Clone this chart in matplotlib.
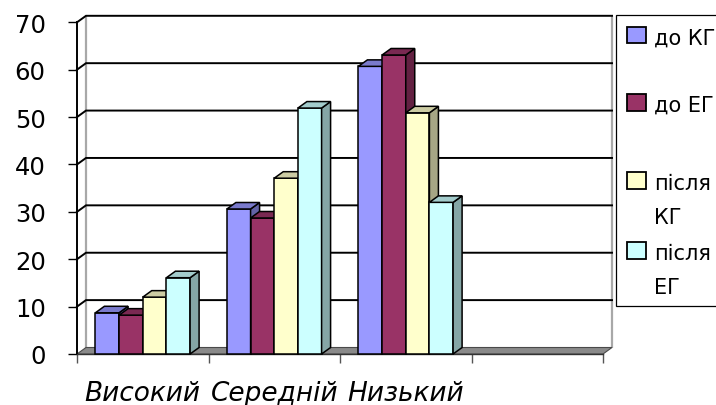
import matplotlib
matplotlib.use("Agg")
import matplotlib.pyplot as plt
from matplotlib.patches import Polygon, Rectangle
import numpy as np

# ---- data -------------------------------------------------------------
categories = ["Високий", "Середній", "Низький", ""]
series_names = ["до КГ", "до ЕГ", "після КГ", "після ЕГ"]
do_kg = [8.7, 30.6, 60.7]
do_eg = [8.2, 28.7, 63.1]
pislia_kg = [12.0, 37.1, 50.9]
pislia_eg = [16.1, 51.9, 32.0]
y_ticks = [0, 10, 20, 30, 40, 50, 60, 70]

series_values = [do_kg, do_eg, pislia_kg, pislia_eg]
colors = ["#9999FF", "#993366", "#FFFFCC", "#CCFFFF"]

# ---- figure / front plane of the 3-D box ------------------------------
W, H, DPI = 716, 406, 100
fig = plt.figure(figsize=(W / DPI, H / DPI), dpi=DPI)
fig.patch.set_facecolor("white")

left_px, right_px, top_px, bottom_px = 77, 603, 23.3, 355
ax = fig.add_axes([left_px / W, 1 - bottom_px / H,
                   (right_px - left_px) / W, (bottom_px - top_px) / H])
n_cat = len(categories)
ymax = y_ticks[-1]
ax.set_xlim(0, n_cat)
ax.set_ylim(0, ymax)
ax.patch.set_alpha(0)

# depth of the box, in pixels, converted to data units
depth_px_x, depth_px_y = 9.0, 6.5
ddx = depth_px_x * n_cat / (right_px - left_px)
ddy = depth_px_y * ymax / (bottom_px - top_px)


def darker(hex_color, f):
    rgb = np.array(matplotlib.colors.to_rgb(hex_color))
    return tuple(rgb * f)


# back wall and left side wall
ax.add_patch(Rectangle((ddx, ddy), n_cat, ymax, facecolor="white",
                       edgecolor="none", zorder=0, clip_on=False))
ax.add_patch(Polygon([(0, 0), (0, ymax), (ddx, ymax + ddy), (ddx, ddy)],
                     closed=True, facecolor="white", edgecolor="none",
                     zorder=0, clip_on=False))
for xe in (ddx, n_cat + ddx):
    ax.plot([xe, xe], [ddy, ymax + ddy], color="#A8A8A8", lw=1.6,
            zorder=1, clip_on=False, solid_capstyle="butt")

# gridlines running over the side wall and the back wall
for v in y_ticks[1:]:
    ax.plot([0, ddx, n_cat + ddx], [v, v + ddy, v + ddy], color="black",
            lw=1.4, zorder=2, clip_on=False, solid_joinstyle="miter")

# floor
ax.add_patch(Polygon([(0, 0), (n_cat, 0), (n_cat + ddx, ddy), (ddx, ddy)],
                     closed=True, facecolor="#8A8A8A", edgecolor="#4A4A4A",
                     lw=0.8, zorder=3, clip_on=False))

# bars
bar_w = 0.18
group_off = (1 - len(series_values) * bar_w) / 2
for ci in range(len(do_kg)):
    for si, vals in enumerate(series_values):
        h = vals[ci]
        c = colors[si]
        x0 = ci + group_off + si * bar_w
        x1 = x0 + bar_w
        z = 10 + ci * 10 + si
        ax.add_patch(Rectangle((x0, 0), bar_w, h, facecolor=c,
                               edgecolor="black", lw=1.1, zorder=z,
                               clip_on=False))
        ax.add_patch(Polygon([(x1, 0), (x1, h), (x1 + ddx, h + ddy),
                              (x1 + ddx, ddy)], closed=True,
                             facecolor=darker(c, 0.65), edgecolor="black",
                             lw=1.1, zorder=z, clip_on=False))
        ax.add_patch(Polygon([(x0, h), (x1, h), (x1 + ddx, h + ddy),
                              (x0 + ddx, h + ddy)], closed=True,
                             facecolor=darker(c, 0.8), edgecolor="black",
                             lw=1.1, zorder=z, clip_on=False))

# ---- axes, ticks, labels ----------------------------------------------
for s in ("top", "right"):
    ax.spines[s].set_visible(False)
ax.spines["left"].set_color("black")
ax.spines["left"].set_linewidth(1.4)
ax.spines["left"].set_zorder(5)
ax.spines["bottom"].set_color("#333333")
ax.spines["bottom"].set_linewidth(1.0)
ax.spines["bottom"].set_zorder(5)

ax.set_yticks(y_ticks)
ax.set_yticklabels([str(t) for t in y_ticks])
ax.tick_params(axis="y", direction="out", length=6.5, width=1.0,
               color="black", pad=16, labelsize=17.5)

ax.set_xticks(np.arange(n_cat + 1))
ax.set_xticklabels([])
ax.tick_params(axis="x", which="major", direction="out", length=6.5,
               width=1.0, color="#555555")
ax.set_xticks(np.arange(n_cat) + 0.5, minor=True)
ax.set_xticklabels(categories, minor=True, fontstyle="italic")
ax.tick_params(axis="x", which="minor", length=0, pad=18.5, labelsize=19)

# ---- legend (box runs past the right edge) ----------------------------
def fx(px):
    return px / W


def fy(py):
    return 1 - py / H


fig.add_artist(Rectangle((fx(616), fy(307)), fx(760) - fx(616),
                         fy(16) - fy(307), transform=fig.transFigure,
                         facecolor="white", edgecolor="black", lw=0.9))

legend_lines = [[series_names[0]], [series_names[1]],
                series_names[2].split(" "), series_names[3].split(" ")]
baselines = [44.7, 112, 190, 260]
line_gap = 34
for si, (lines, base) in enumerate(zip(legend_lines, baselines)):
    fig.add_artist(Rectangle((fx(627), fy(base - 0.5)), fx(646) - fx(627),
                             fy(base - 17) - fy(base - 0.5),
                             transform=fig.transFigure,
                             facecolor=colors[si], edgecolor="black",
                             lw=1.3))
    for li, line in enumerate(lines):
        fig.text(fx(654), fy(base + li * line_gap), line, fontsize=15,
                 ha="left", va="baseline")

fig.savefig("out.png", dpi=DPI)
